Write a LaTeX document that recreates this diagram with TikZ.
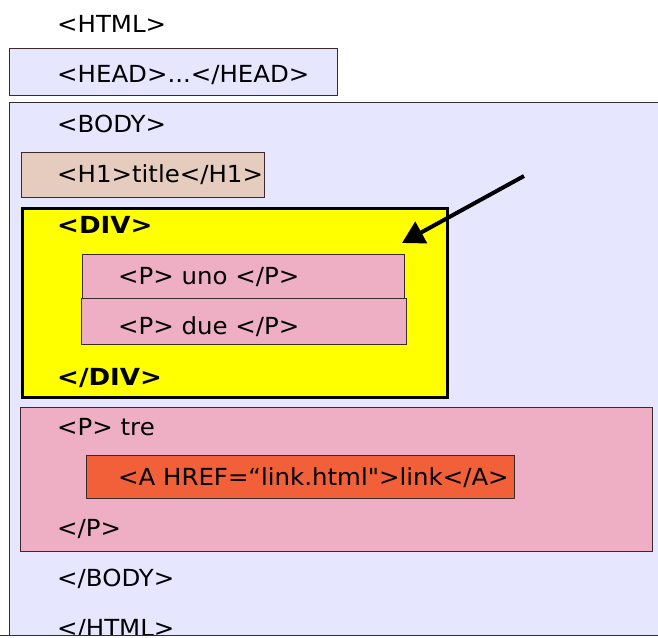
\documentclass[tikz,border=0pt]{standalone}
\usepackage{fontspec}
\setmainfont{DejaVu Sans}[Ligatures=TeXOff, FakeStretch=1.04, BoldFeatures={FakeStretch=1.11}]
\usetikzlibrary{arrows.meta}
\definecolor{bodyc}{HTML}{E6E6FF}
\definecolor{h1c}{HTML}{E6CCBE}
\definecolor{pc}{HTML}{EEAFC4}
\definecolor{ac}{HTML}{F26039}
\definecolor{divc}{HTML}{FFFF00}
\definecolor{edgec}{HTML}{3A2A2A}
\tikzset{
  box/.style={draw=edgec, line width=1pt, inner sep=0pt, anchor=north west},
  tag/.style={anchor=base west, inner sep=0pt, font=\fontsize{23.5}{25}\selectfont},
  btag/.style={tag, font=\fontsize{23.5}{25}\selectfont\bfseries},
}
\begin{document}
\begin{tikzpicture}[x=1pt,y=-1pt]
\useasboundingbox (0,0) rectangle (658,637);
\fill[white] (0,0) rectangle (658,637);
\begin{scope}
\clip (0,0) rectangle (658,634.5);
\node[box, fill=bodyc, minimum width=660pt, minimum height=533pt] (body) at (9,102) {};
\node[box, fill=bodyc, minimum width=328pt, minimum height=47pt] (head) at (9,48) {};
\node[box, fill=h1c, minimum width=243pt, minimum height=45pt] (h1) at (21,152) {};
\node[box, fill=divc, draw=black, line width=3pt, minimum width=425pt, minimum height=189pt] (div) at (21,207) {};
\node[box, fill=pc, minimum width=322pt, minimum height=44pt] (puno) at (82,254) {};
\node[box, fill=pc, minimum width=325pt, minimum height=46pt] (pdue) at (81,298) {};
\node[box, fill=pc, minimum width=632pt, minimum height=144pt] (ptre) at (20,407) {};
\node[box, fill=ac, minimum width=428pt, minimum height=43pt] (alink) at (86,455) {};
\node[tag] (t1) at (57,32) {<HTML>};
\node[tag] (t2) at (57,82) {<HEAD>...</HEAD>};
\node[tag] (t3) at (57,132) {<BODY>};
\node[tag] (t4) at (57,182) {<H1>title</H1>};
\node[btag] (t5) at (57,233) {<DIV>};
\node[tag] (t6) at (118,284) {<P> uno </P>};
\node[tag] (t7) at (118,334) {<P> due </P>};
\node[btag] (t8) at (57,385) {</DIV>};
\node[tag] (t9) at (57,435) {<P> tre};
\node[tag] (t10) at (118,485) {<A HREF=“link.html">link</A>};
\node[tag] (t11) at (57,536) {</P>};
\node[tag] (t12) at (57,586) {</BODY>};
\node[tag] (t13) at (57,636) {</HTML>};
\end{scope}
\draw[edgec, line width=1pt] (0,635) -- (658,635);
\coordinate (arrs) at (524,176);
\coordinate (arre) at (402,243);
\draw[line width=4pt, -{Triangle[length=22pt,width=24pt]}] (arrs) -- (arre);
\end{tikzpicture}
\end{document}
